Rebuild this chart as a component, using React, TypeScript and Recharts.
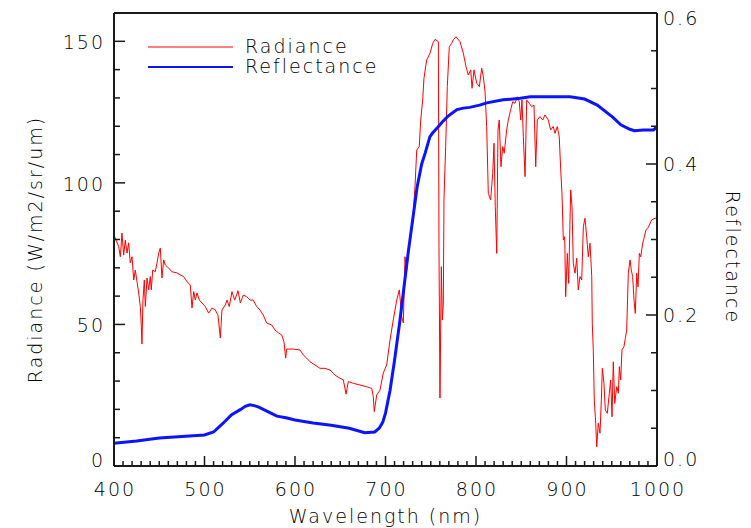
import React from 'react';
import { LineChart, Line, XAxis, YAxis, Legend } from 'recharts';

const FONT = "'DejaVu Sans', sans-serif";
const INK = '#1a1a1a';

// tick labels
const xMajorTicks = [400, 500, 600, 700, 800, 900, 1000];
const leftMajorTicks = [0, 50, 100, 150];
const rightMajorTicks = [0, 0.2, 0.4, 0.6];
const xTicks = Array.from({ length: 61 }, (_, i) => 400 + i * 10);
const leftTicks = Array.from({ length: 17 }, (_, i) => i * 10);
const rightTicks = Array.from({ length: 13 }, (_, i) => (i * 5) / 100);

// red: at-sensor radiance
const radianceNm = [
  400, 402.2, 405.2, 407.0, 408.8, 410.7, 412.5, 414.4, 416.2, 418.0,
  419.9, 421.8, 423.5, 425.4, 427.3, 429.1, 430.2, 430.9, 432.0, 433.5,
  434.6, 436.5, 438.3, 440.1, 441.2, 442.8, 445.6, 447.5, 449.4, 451.2,
  453.0, 454.9, 456.7, 460.4, 464.1, 469.6, 473.3, 477.0, 480.7, 484.3,
  486.2, 488.1, 489.8, 491.7, 494.3, 497.2, 500.9, 504.6, 508.3, 511.9,
  514.9, 517.5, 519.3, 523.0, 524.9, 527.4, 530.4, 533.4, 537.0, 539.6,
  542.9, 546.6, 550.3, 553.9, 557.7, 561.3, 565.0, 568.7, 574.3, 577.9,
  581.5, 585.3, 587.8, 589.7, 590.8, 598.1, 605.5, 609.2, 612.9, 616.6,
  622.1, 627.6, 633.1, 638.7, 644.2, 649.7, 653.4, 656.4, 658.9, 664.4,
  671.8, 679.2, 684.8, 686.5, 687.6, 690.3, 693.9, 697.6, 701.3, 705.0,
  708.6, 712.4, 715.3, 717.9, 719.7, 721.5, 723.4, 730.6, 732.6, 734.5,
  737.3, 738.9, 741.1, 742.5, 745.5, 749.2, 752.2, 754.7, 758.4, 759.1,
  760.2, 761.7, 762.8, 763.9, 764.6, 766.5, 768.3, 770.5, 773.2, 774.9,
  777.9, 782.3, 786.0, 789.0, 791.5, 794.2, 795.6, 797.8, 800.8, 803.7,
  806.3, 808.1, 810.0, 811.8, 813.6, 816.2, 818.5, 819.9, 821.3, 822.9,
  824.3, 825.7, 827.6, 829.5, 831.2, 833.9, 835.7, 838.3, 840.6, 843.1,
  845.6, 847.8, 849.4, 850.8, 852.3, 854.2, 856.0, 858.9, 861.6, 864.1,
  866.0, 867.7, 870.7, 873.7, 876.2, 879.9, 882.5, 885.4, 887.3, 889.8,
  892.0, 893.6, 895.0, 896.5, 898.0, 899.1, 900.9, 902.4, 904.6, 906.1,
  907.5, 909.4, 911.3, 913.0, 914.9, 916.8, 918.6, 920.4, 922.3, 924.1,
  926.0, 927.9, 928.5, 929.6, 930.7, 932.3, 933.4, 935.1, 937.0, 938.5,
  939.6, 941.4, 942.9, 945.1, 947.3, 948.8, 950.3, 951.7, 953.3, 955.5,
  957.3, 958.4, 959.9, 961.3, 963.5, 965.0, 966.5, 968.3, 970.2, 971.6,
  973.1, 974.6, 976.0, 977.6, 979.0, 980.5, 982.0, 984.2, 985.6, 987.8,
  990.4, 994.1, 997.8, 1000,
];
const radianceVal = [
  81.6, 79.8, 77.5, 73.9, 82.3, 74.5, 79.8, 75.2, 78.8, 71.7,
  73.9, 65.7, 69.2, 65.1, 61.1, 56.3, 49.2, 43.1, 58.6, 65.7,
  56.3, 66.4, 62.2, 66.9, 62.2, 69.2, 68.6, 71.7, 75.2, 77.0,
  66.4, 72.8, 71.0, 69.9, 68.6, 68.2, 67.5, 66.9, 65.1, 63.9,
  55.8, 61.6, 58.6, 61.1, 58.6, 57.6, 56.3, 54.0, 55.8, 55.1,
  53.3, 45.2, 55.1, 56.9, 58.6, 56.3, 61.6, 58.6, 61.9, 57.6,
  60.4, 59.8, 58.6, 58.6, 56.3, 55.1, 53.3, 50.5, 49.8, 48.0,
  47.1, 46.3, 43.9, 38.1, 41.3, 41.3, 41.0, 39.2, 38.1, 36.8,
  35.7, 34.5, 34.5, 33.9, 32.1, 31.0, 30.4, 25.4, 29.8, 29.2,
  28.6, 28.0, 27.4, 24.5, 19.2, 25.1, 26.8, 32.9, 35.7, 44.5,
  51.6, 58.6, 62.2, 52.7, 50.5, 73.9, 69.2, 89.3, 98.7, 111.6,
  112.8, 122.2, 129.3, 136.9, 143.4, 145.8, 149.3, 150.7, 149.9, 77.5,
  24.0, 70.4, 51.6, 57.6, 94.0, 112.8, 134.0, 148.1, 149.3, 150.5,
  151.6, 149.9, 145.8, 141.0, 138.1, 139.9, 133.4, 139.9, 135.2, 134.0,
  140.5, 137.5, 132.2, 119.9, 96.3, 94.0, 103.4, 114.0, 91.6, 75.1,
  118.7, 122.2, 105.7, 112.8, 110.5, 118.7, 122.2, 125.8, 128.7, 128.1,
  130.4, 128.7, 122.2, 129.3, 116.3, 102.2, 129.3, 128.1, 126.9, 127.5,
  105.7, 122.2, 123.4, 122.2, 124.0, 122.2, 118.7, 119.9, 117.5, 119.9,
  116.3, 104.6, 96.3, 79.8, 81.0, 59.8, 75.1, 64.5, 97.5, 91.6,
  71.6, 68.1, 73.4, 62.2, 66.9, 65.7, 84.5, 87.5, 81.0, 73.9,
  78.7, 66.9, 50.4, 41.0, 23.3, 15.1, 6.8, 15.1, 11.6, 23.3,
  34.5, 29.2, 19.8, 18.6, 25.7, 30.4, 17.4, 36.8, 22.1, 28.0,
  25.7, 35.1, 30.4, 41.0, 42.1, 45.1, 48.0, 68.1, 72.8, 69.2,
  66.9, 58.6, 53.9, 68.1, 63.3, 75.1, 73.9, 78.7, 80.4, 83.4,
  84.3, 86.9, 87.5, 87.6,
];

// blue: surface reflectance
const reflectanceNm = [
  400, 425, 450, 475, 500, 510, 520, 530, 540, 545, 550, 555, 560, 570, 580,
  590, 600, 620, 640, 660, 677, 688, 693, 697, 700, 705, 710, 716, 725, 735,
  740, 744, 749, 752, 758, 763, 768, 772, 779, 786, 793, 804, 812, 830, 849,
  860, 893, 904, 920, 934, 951, 960, 970, 975, 985, 996, 1000,
];
const reflectanceVal = [
  0.030, 0.033, 0.037, 0.039, 0.041, 0.045, 0.056, 0.068, 0.075, 0.079, 0.081, 0.080, 0.078, 0.072, 0.066,
  0.064, 0.061, 0.057, 0.054, 0.050, 0.044, 0.045, 0.050, 0.058, 0.070, 0.100, 0.140, 0.193, 0.282, 0.370,
  0.400, 0.415, 0.436, 0.441, 0.449, 0.456, 0.462, 0.466, 0.472, 0.474, 0.475, 0.478, 0.481, 0.485, 0.487,
  0.489, 0.489, 0.489, 0.486, 0.478, 0.462, 0.452, 0.446, 0.444, 0.445, 0.445, 0.449,
];

const radianceData = radianceNm.map((nm, i) => ({ nm, rad: radianceVal[i] }));
const reflectanceData = reflectanceNm.map((nm, i) => ({ nm, refl: reflectanceVal[i] }));

const textStyle = { fontFamily: FONT, fontSize: 19, letterSpacing: 2, fill: '#000', fontWeight: 200 } as const;

const BottomTick = ({ x, y, payload }: any) => {
  const major = xMajorTicks.includes(payload.value);
  return (
    <g>
      <line x1={x} x2={x} y1={y} y2={y - (major ? 10 : 5)} stroke={INK} strokeWidth={1.5} />
      {major && (
        <text x={x + 1} y={y + 23} textAnchor="middle" dominantBaseline="central" style={textStyle}>
          {payload.value}
        </text>
      )}
    </g>
  );
};

const TopTick = ({ x, y, payload }: any) => {
  const major = xMajorTicks.includes(payload.value);
  return <line x1={x} x2={x} y1={y} y2={y + (major ? 10 : 5)} stroke={INK} strokeWidth={1.5} />;
};

const LeftTick = ({ x, y, payload }: any) => {
  const major = leftMajorTicks.includes(payload.value);
  const dy = payload.value === 0 ? -6 : 1;
  return (
    <g>
      <line x1={x} x2={x + (major ? 11 : 6)} y1={y} y2={y} stroke={INK} strokeWidth={1.5} />
      {major && (
        <text x={x - 9} y={y + dy} textAnchor="end" dominantBaseline="central" style={textStyle}>
          {payload.value}
        </text>
      )}
    </g>
  );
};

const RightTick = ({ x, y, payload }: any) => {
  const v = payload.value;
  const major = rightMajorTicks.some((m) => Math.abs(m - v) < 1e-6);
  const dy = v < 0.01 ? -7 : v > 0.59 ? 5 : 0;
  return (
    <g>
      <line x1={x} x2={x - (major ? 11 : 6)} y1={y} y2={y} stroke={INK} strokeWidth={1.5} />
      {major && (
        <text x={x + 6} y={y + dy} textAnchor="start" dominantBaseline="central" style={textStyle}>
          {v.toFixed(1)}
        </text>
      )}
    </g>
  );
};

const LegendBox = ({ payload }: any) => (
  <svg width={260} height={44} style={{ display: 'block' }}>
    {(payload || []).map((item: any, i: number) => (
      <g key={item.value}>
        <line
          x1={0}
          x2={85}
          y1={11 + i * 20}
          y2={11 + i * 20}
          stroke={item.color}
          strokeWidth={i === 0 ? 1.2 : 2}
        />
        <text x={97} y={10 + i * 20} dominantBaseline="central" style={textStyle}>
          {item.value}
        </text>
      </g>
    ))}
  </svg>
);

export default function App() {
  return (
    <div style={{ position: 'absolute', left: 0, top: 0, width: 751, height: 528, background: '#fff' }}>
      <LineChart width={751} height={528} margin={{ top: 0, right: 0, bottom: 0, left: 0 }}>
        <XAxis
          xAxisId="bottom"
          dataKey="nm"
          type="number"
          domain={[400, 1000]}
          ticks={xTicks}
          interval={0}
          height={62}
          tickSize={0}
          tickMargin={0}
          tickLine={false}
          axisLine={{ stroke: INK, strokeWidth: 2 }}
          tick={(p: any) => <BottomTick {...p} />}
          label={({ viewBox }: any) => (
            <text
              x={viewBox.x + viewBox.width / 2}
              y={viewBox.y + 50}
              textAnchor="middle"
              dominantBaseline="central"
              style={textStyle}
            >
              Wavelength (nm)
            </text>
          )}
        />
        <XAxis
          xAxisId="top"
          orientation="top"
          dataKey="nm"
          type="number"
          domain={[400, 1000]}
          ticks={xTicks}
          interval={0}
          height={13}
          tickSize={0}
          tickMargin={0}
          tickLine={false}
          axisLine={{ stroke: INK, strokeWidth: 2 }}
          tick={(p: any) => <TopTick {...p} />}
        />
        <YAxis
          yAxisId="left"
          type="number"
          domain={[0, 160]}
          ticks={leftTicks}
          interval={0}
          width={114}
          tickSize={0}
          tickMargin={0}
          tickLine={false}
          axisLine={{ stroke: INK, strokeWidth: 2 }}
          tick={(p: any) => <LeftTick {...p} />}
          label={({ viewBox }: any) => {
            const cx = viewBox.x + 35;
            const cy = viewBox.y + viewBox.height / 2 + 10;
            return (
              <text
                x={cx}
                y={cy}
                transform={`rotate(-90 ${cx} ${cy})`}
                textAnchor="middle"
                dominantBaseline="central"
                style={textStyle}
              >
                Radiance (W/m2/sr/um)
              </text>
            );
          }}
        />
        <YAxis
          yAxisId="right"
          orientation="right"
          type="number"
          domain={[0, 0.6]}
          ticks={rightTicks}
          interval={0}
          width={94}
          tickSize={0}
          tickMargin={0}
          tickLine={false}
          axisLine={{ stroke: INK, strokeWidth: 2 }}
          tick={(p: any) => <RightTick {...p} />}
          label={({ viewBox }: any) => {
            const cx = viewBox.x + 76;
            const cy = viewBox.y + viewBox.height / 2 + 18;
            return (
              <text
                x={cx}
                y={cy}
                transform={`rotate(90 ${cx} ${cy})`}
                textAnchor="middle"
                dominantBaseline="central"
                style={textStyle}
              >
                Reflectance
              </text>
            );
          }}
        />
        <Legend
          layout="horizontal"
          verticalAlign="middle"
          align="center"
          wrapperStyle={{ position: 'absolute', left: 148, top: 36, width: 260, height: 44 }}
          content={(p: any) => <LegendBox {...p} />}
        />
        <Line
          data={radianceData}
          xAxisId="bottom"
          yAxisId="left"
          dataKey="rad"
          name="Radiance"
          type="linear"
          stroke="#ff0000"
          strokeWidth={1}
          dot={false}
          activeDot={false}
          isAnimationActive={false}
        />
        <Line
          data={reflectanceData}
          xAxisId="bottom"
          yAxisId="right"
          dataKey="refl"
          name="Reflectance"
          type="linear"
          stroke="#0a14ff"
          strokeWidth={3}
          dot={false}
          activeDot={false}
          isAnimationActive={false}
        />
      </LineChart>
    </div>
  );
}
